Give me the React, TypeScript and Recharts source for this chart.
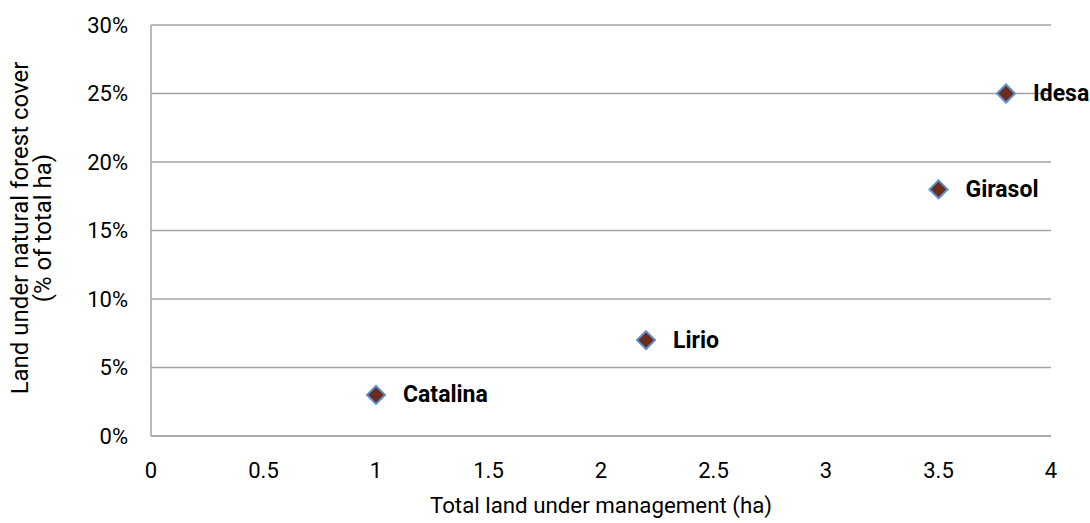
import React from 'react';
import { ScatterChart, Scatter, XAxis, YAxis, CartesianGrid, LabelList } from 'recharts';

const farms = ['Catalina', 'Lirio', 'Girasol', 'Idesa'];
const totalLand = [1, 2.2, 3.5, 3.8];
const forestShare = [0.03, 0.07, 0.18, 0.25];
const xTicks = [0, 0.5, 1, 1.5, 2, 2.5, 3, 3.5, 4];
const yTicks = [0, 0.05, 0.1, 0.15, 0.2, 0.25, 0.3];

const FONT = 'Roboto, "Liberation Sans", Arial, sans-serif';
const GRID = '#a3a3a3';

const data = farms.map((name, i) => ({ name, x: totalLand[i], y: forestShare[i] }));

// diamond marker, brown fill with a blue outline
const Diamond = (props: any) => {
    const { cx, cy } = props;
    const r = 9;
    return (
        <path
            d={`M${cx},${cy - r} L${cx + r},${cy} L${cx},${cy + r} L${cx - r},${cy} Z`}
            fill="#6b2c1c"
            stroke="#5b8fd0"
            strokeWidth={2}
        />
    );
};

const renderLabel = (props: any) => {
    const { x, y, width, height, value } = props;
    return (
        <text
            x={x + width / 2 + 27}
            y={y + height / 2}
            dominantBaseline="central"
            fontFamily={FONT}
            fontWeight="bold"
            fontSize={23}
            fill="#000"
        >
            {value}
        </text>
    );
};

const App: React.FC = () => {
    return (
        <div style={{ position: 'absolute', left: 0, top: 0, background: '#fff' }}>
            <ScatterChart width={1090} height={523} margin={{ top: 25, right: 39, bottom: 0, left: 0 }}>
                <CartesianGrid vertical={false} stroke={GRID} strokeWidth={1.5} />
                <XAxis
                    type="number"
                    dataKey="x"
                    domain={[0, 4]}
                    ticks={xTicks}
                    height={87}
                    tickLine={false}
                    axisLine={{ stroke: GRID, strokeWidth: 1.5 }}
                    tick={{ fill: '#000', fontSize: 22, fontFamily: FONT }}
                    tickMargin={20}
                />
                <YAxis
                    type="number"
                    dataKey="y"
                    domain={[0, 0.3]}
                    ticks={yTicks}
                    width={151}
                    tickLine={false}
                    axisLine={{ stroke: GRID, strokeWidth: 1.5 }}
                    tick={{ fill: '#000', fontSize: 22, fontFamily: FONT }}
                    tickMargin={17}
                    tickFormatter={(v: number) => `${Math.round(v * 100)}%`}
                />
                <text
                    x={601}
                    y={505}
                    textAnchor="middle"
                    dominantBaseline="central"
                    fontFamily={FONT}
                    fontSize={22.3}
                    fill="#000"
                >
                    Total land under management (ha)
                </text>
                <text
                    transform="translate(20,228) rotate(-90)"
                    textAnchor="middle"
                    dominantBaseline="central"
                    fontFamily={FONT}
                    fontSize={24}
                    fill="#000"
                >
                    Land under natural forest cover
                </text>
                <text
                    transform="translate(43,228) rotate(-90)"
                    textAnchor="middle"
                    dominantBaseline="central"
                    fontFamily={FONT}
                    fontSize={24}
                    fill="#000"
                >
                    (% of total ha)
                </text>
                <Scatter data={data} shape={Diamond} isAnimationActive={false}>
                    <LabelList dataKey="name" content={renderLabel} />
                </Scatter>
            </ScatterChart>
        </div>
    );
};

export default App;
